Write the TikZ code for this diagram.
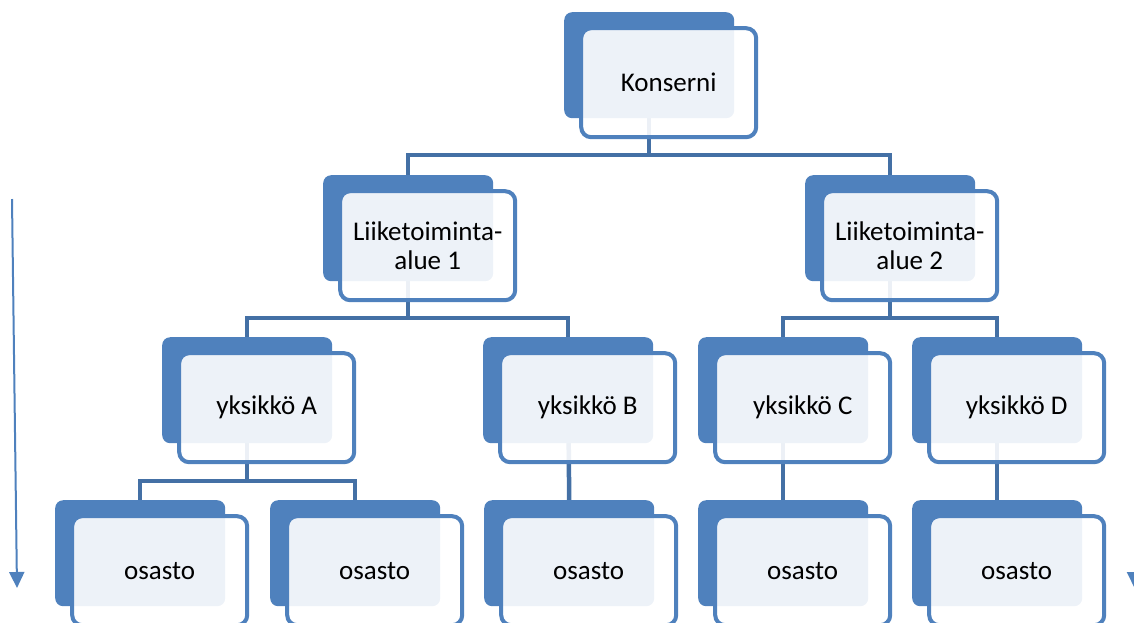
\documentclass[tikz,border=0pt]{standalone}
\usepackage{fontspec}
\setmainfont{Carlito}
\usetikzlibrary{arrows.meta,calc}
\pgfdeclarelayer{background}
\pgfsetlayers{background,main}
\definecolor{accent}{RGB}{79,129,189}
\definecolor{connc}{RGB}{68,112,165}
\tikzset{
  backbox/.style={fill=accent, draw=none, rounded corners=8pt, minimum width=170pt, minimum height=106pt, inner sep=0pt, anchor=north west},
  frontbox/.style={draw=accent, line width=4pt, fill=white, fill opacity=0.9, text opacity=1, rounded corners=10pt, minimum width=175pt, minimum height=109pt, inner sep=0pt, align=center, font=\fontsize{27}{28.5}\selectfont},
  connline/.style={draw=connc, line width=4.5pt},
  sidearrow/.style={draw=accent, line width=2pt, -{Triangle[width=15pt,length=16pt]}}
}
\begin{document}
\begin{tikzpicture}[x=1pt,y=-1pt]
\useasboundingbox (0,0) rectangle (1134,622);
\clip (0,0) rectangle (1134,622);
% back boxes
\node[backbox] (konB) at (564,12) {};
\node[backbox] (la1B) at (323,175) {};
\node[backbox] (la2B) at (805,175) {};
\node[backbox] (yaB) at (162,337) {};
\node[backbox] (ybB) at (483,337) {};
\node[backbox] (ycB) at (698,337) {};
\node[backbox] (ydB) at (912,337) {};
\node[backbox] (o1B) at (55,500) {};
\node[backbox] (o2B) at (270,500) {};
\node[backbox] (o3B) at (484,500) {};
\node[backbox] (o4B) at (698,500) {};
\node[backbox] (o5B) at (912,500) {};
% front boxes
\node[frontbox] (konF) at ($(konB.center)+(19.5,17.5)$) {Konserni};
\node[frontbox] (la1F) at ($(la1B.center)+(19.5,17.5)$) {Liiketoiminta-\\alue 1};
\node[frontbox] (la2F) at ($(la2B.center)+(19.5,17.5)$) {Liiketoiminta-\\alue 2};
\node[frontbox] (yaF) at ($(yaB.center)+(19.5,17.5)$) {yksikkö A};
\node[frontbox] (ybF) at ($(ybB.center)+(19.5,17.5)$) {yksikkö B};
\node[frontbox] (ycF) at ($(ycB.center)+(19.5,17.5)$) {yksikkö C};
\node[frontbox] (ydF) at ($(ydB.center)+(19.5,17.5)$) {yksikkö D};
\node[frontbox] (o1F) at ($(o1B.center)+(19.5,17.5)$) {osasto};
\node[frontbox] (o2F) at ($(o2B.center)+(19.5,17.5)$) {osasto};
\node[frontbox] (o3F) at ($(o3B.center)+(19.5,17.5)$) {osasto};
\node[frontbox] (o4F) at ($(o4B.center)+(19.5,17.5)$) {osasto};
\node[frontbox] (o5F) at ($(o5B.center)+(19.5,17.5)$) {osasto};
% connectors
\coordinate (h1) at (0,155);
\coordinate (h2) at (0,318);
\coordinate (h3) at (0,481);
\begin{pgfonlayer}{background}
\draw[connline] (konB.center) -- (konB.center |- h1);
\draw[connline] (konB.center |- h1) -| (la1B.north);
\draw[connline] (konB.center |- h1) -| (la2B.north);
\draw[connline] (la1B.center) -- (la1B.center |- h2);
\draw[connline] (la1B.center |- h2) -| (yaB.north);
\draw[connline] (la1B.center |- h2) -| (ybB.north);
\draw[connline] (la2B.center) -- (la2B.center |- h2);
\draw[connline] (la2B.center |- h2) -| (ycB.north);
\draw[connline] (la2B.center |- h2) -| (ydB.north);
\draw[connline] (yaB.center) -- (yaB.center |- h3);
\draw[connline] (yaB.center |- h3) -| (o1B.north);
\draw[connline] (yaB.center |- h3) -| (o2B.north);
\draw[connline] (ybB.center) -- (o3B.north);
\draw[connline] (ycB.center) -- (o4B.north);
\draw[connline] (ydB.center) -- (o5B.north);
\end{pgfonlayer}
% side arrows
\coordinate (la) at (12,199);
\coordinate (lb) at (17,588);
\coordinate (ra) at (1134.5,199);
\coordinate (rb) at (1134.5,588);
\draw[sidearrow] (la) -- (lb);
\draw[sidearrow] (ra) -- (rb);
\end{tikzpicture}
\end{document}
